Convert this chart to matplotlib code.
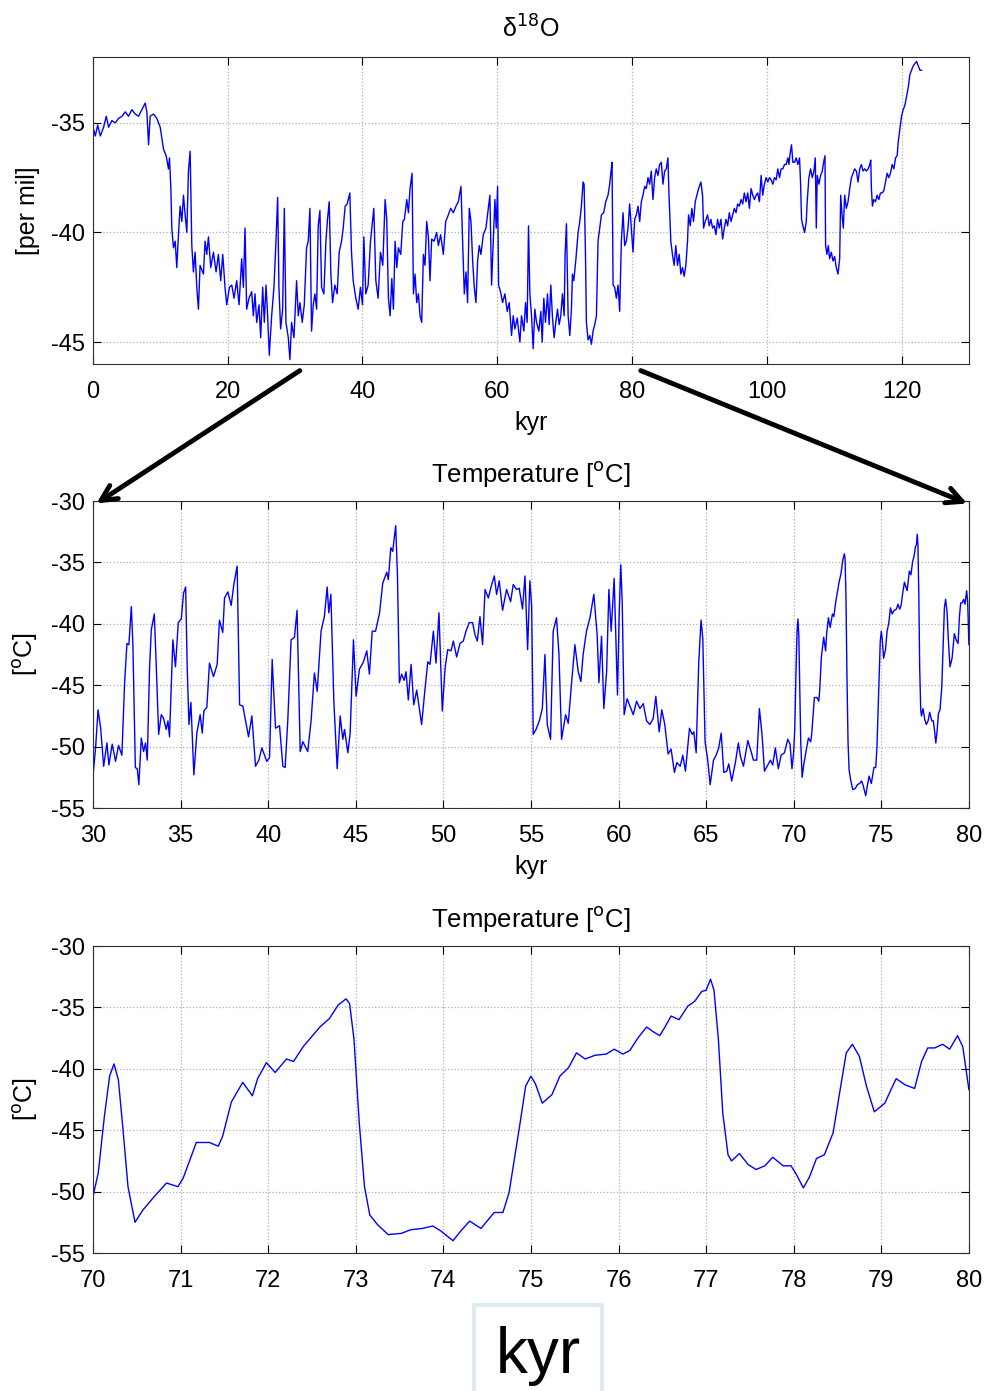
import numpy as np
import matplotlib.pyplot as plt

plt.rcParams['font.family'] = ['Liberation Sans', 'DejaVu Sans']
plt.rcParams['axes.unicode_minus'] = False

# ---------------- delta 18O, 0-123 kyr ----------------
top_kyr = [0.1, 0.35, 0.7, 1.09, 1.58, 1.98, 2.32, 2.81, 3.31, 3.8, 4.3, 4.79, 5.28, 5.78, 6.27, 6.77,
           7.26, 7.75, 8.0, 8.25, 8.49, 8.99, 9.48, 9.98, 10.22, 10.47, 10.86, 11.21, 11.36, 11.56, 11.7,
           11.95, 12.2, 12.44, 12.69, 12.94, 13.19, 13.43, 13.68, 13.93, 14.17, 14.42, 14.67, 14.91, 15.16,
           15.41, 15.65, 15.9, 16.4, 16.64, 16.89, 17.14, 17.48, 17.88, 18.27, 18.62, 18.96, 19.26, 19.6,
           19.85, 20.25, 20.6, 20.94, 21.33, 21.68, 22.07, 22.32, 22.57, 22.81, 23.16, 23.56, 23.8, 24.05,
           24.3, 24.64, 24.89, 25.19, 25.43, 25.68, 25.88, 26.17, 26.52, 26.86, 27.16, 27.41, 27.6, 27.85,
           28.15, 28.4, 28.64, 28.99, 29.23, 29.48, 29.83, 30.22, 30.47, 30.72, 31.06, 31.36, 31.7, 31.95,
           32.2, 32.44, 32.69, 32.94, 33.19, 33.43, 33.68, 33.93, 34.27, 34.57, 34.81, 35.06, 35.31, 35.56,
           35.9, 36.25, 36.54, 36.89, 37.14, 37.43, 37.73, 38.12, 38.37, 38.62, 39.01, 39.36, 39.7, 40.0,
           40.2, 40.49, 40.84, 41.19, 41.48, 41.68, 41.98, 42.32, 42.67, 43.01, 43.36, 43.6, 43.85, 44.1,
           44.35, 44.59, 44.84, 45.09, 45.33, 45.68, 45.98, 46.22, 46.57, 46.82, 47.06, 47.36, 47.56, 47.8,
           48.05, 48.3, 48.54, 48.79, 49.04, 49.28, 49.53, 49.78, 50.02, 50.27, 50.62, 51.01, 51.26, 51.6,
           52.0, 52.35, 52.74, 53.09, 53.48, 53.88, 54.22, 54.62, 54.86, 55.11, 55.36, 55.6, 55.85, 56.1,
           56.35, 56.59, 56.84, 57.09, 57.33, 57.58, 57.93, 58.32, 58.67, 58.91, 59.16, 59.41, 59.65, 59.85,
           60.05, 60.2, 60.49, 60.79, 61.14, 61.48, 61.78, 62.12, 62.37, 62.62, 62.96, 63.36, 63.6, 63.95,
           64.2, 64.44, 64.64, 64.84, 65.09, 65.33, 65.58, 65.83, 66.17, 66.47, 66.67, 66.91, 67.16, 67.46,
           67.7, 67.95, 68.2, 68.44, 68.69, 68.94, 69.19, 69.43, 69.68, 69.93, 70.07, 70.27, 70.52, 70.77,
           71.01, 71.16, 71.36, 71.65, 72.0, 72.25, 72.49, 72.74, 72.89, 73.09, 73.23, 73.48, 73.73, 73.98,
           74.22, 74.47, 74.72, 74.96, 75.21, 75.46, 75.8, 76.1, 76.44, 76.69, 76.89, 77.04, 77.19, 77.43,
           77.68, 77.93, 78.17, 78.42, 78.67, 78.91, 79.16, 79.41, 79.65, 79.9, 80.15, 80.4, 80.64, 80.89,
           81.14, 81.38, 81.63, 81.88, 82.12, 82.37, 82.62, 82.86, 83.11, 83.36, 83.6, 83.85, 84.1, 84.35,
           84.59, 84.84, 85.09, 85.33, 85.48, 85.76, 86.0, 86.25, 86.5, 86.75, 87.0, 87.25, 87.49, 87.74,
           87.99, 88.24, 88.39, 88.64, 88.88, 89.13, 89.38, 89.63, 89.88, 90.22, 90.47, 90.62, 90.87, 91.22,
           91.46, 91.71, 91.96, 92.21, 92.46, 92.7, 92.95, 93.2, 93.45, 93.7, 93.95, 94.19, 94.44, 94.69,
           94.94, 95.19, 95.43, 95.68, 95.93, 96.18, 96.43, 96.67, 96.92, 97.17, 97.42, 97.67, 97.92, 98.16,
           98.41, 98.66, 98.91, 99.16, 99.4, 99.65, 99.9, 100.15, 100.4, 100.65, 100.89, 101.14, 101.39,
           101.64, 101.89, 102.13, 102.38, 102.63, 102.88, 103.13, 103.28, 103.47, 103.67, 103.87, 104.12,
           104.37, 104.62, 104.86, 105.01, 105.16, 105.36, 105.61, 105.86, 106.0, 106.25, 106.5, 106.75,
           107.0, 107.2, 107.35, 107.49, 107.74, 107.99, 108.24, 108.44, 108.64, 108.73, 108.93, 109.13,
           109.33, 109.58, 109.83, 110.07, 110.32, 110.57, 110.82, 110.97, 111.17, 111.36, 111.56, 111.81,
           112.06, 112.31, 112.56, 112.8, 113.05, 113.3, 113.55, 113.8, 114.04, 114.29, 114.54, 114.79,
           115.04, 115.29, 115.43, 115.53, 115.68, 115.88, 116.13, 116.38, 116.63, 116.87, 117.12, 117.37,
           117.62, 117.87, 118.11, 118.36, 118.61, 118.86, 119.11, 119.35, 119.5, 119.75, 120.0, 120.25,
           120.5, 120.74, 120.99, 121.24, 121.49, 121.74, 121.99, 122.23, 122.48, 122.73, 122.98]
top_d18o = [-35.3, -35.6, -35.1, -35.6, -35.2, -34.7, -35.2, -34.9, -35.0, -34.8, -34.7, -34.5, -34.7, -34.4,
            -34.6, -34.7, -34.4, -34.1, -34.5, -36.0, -34.7, -34.6, -34.8, -35.2, -35.7, -36.2, -36.5, -37.1,
            -36.6, -38.0, -39.8, -40.7, -40.4, -41.6, -40.1, -38.8, -39.5, -38.3, -39.2, -40.0, -37.2, -36.3,
            -40.6, -41.8, -40.9, -42.5, -43.5, -41.5, -41.9, -40.4, -41.0, -40.2, -41.6, -40.9, -41.8, -41.0,
            -42.2, -41.0, -42.5, -43.3, -42.5, -42.4, -43.0, -42.2, -43.3, -41.2, -42.5, -39.8, -43.5, -43.0,
            -42.7, -43.8, -42.8, -44.1, -43.3, -44.8, -42.5, -44.1, -42.4, -43.5, -45.6, -43.8, -42.5, -40.4,
            -38.4, -42.5, -44.4, -43.5, -38.9, -44.1, -44.8, -45.8, -44.1, -44.8, -42.2, -43.8, -43.2, -44.1,
            -43.3, -40.7, -40.4, -38.9, -44.5, -43.3, -42.8, -43.5, -39.7, -39.0, -42.5, -42.8, -40.4, -39.4,
            -38.6, -41.9, -43.2, -42.4, -42.8, -40.9, -40.4, -39.8, -38.8, -38.7, -38.2, -40.9, -42.2, -43.0,
            -43.5, -42.5, -43.3, -40.2, -42.8, -42.4, -40.4, -39.5, -38.9, -42.2, -43.0, -40.9, -41.5, -38.5,
            -39.4, -43.0, -43.8, -42.1, -43.5, -40.4, -41.6, -40.7, -41.0, -39.5, -39.4, -38.5, -39.1, -38.0,
            -37.3, -42.8, -41.9, -43.2, -42.8, -43.8, -44.1, -41.0, -41.5, -39.5, -40.2, -42.2, -40.3, -40.4,
            -40.0, -40.6, -40.1, -41.0, -39.5, -39.2, -38.9, -39.1, -38.8, -38.6, -37.9, -40.4, -42.8, -41.8,
            -43.2, -38.9, -39.5, -41.3, -42.5, -43.2, -41.3, -40.6, -41.0, -40.1, -39.8, -38.9, -38.3, -42.4,
            -40.4, -38.5, -39.8, -37.9, -42.4, -42.7, -43.2, -42.8, -43.6, -43.2, -44.7, -43.8, -44.4, -43.9,
            -45.0, -43.8, -44.5, -43.2, -44.1, -39.7, -42.8, -43.8, -45.3, -43.5, -44.1, -44.5, -43.6, -45.0,
            -43.0, -44.1, -42.8, -44.2, -42.4, -43.9, -44.8, -44.1, -43.5, -44.2, -43.8, -42.8, -43.8, -41.0,
            -39.6, -43.8, -44.7, -43.5, -41.9, -42.2, -41.3, -40.0, -39.5, -38.8, -37.7, -37.8, -40.9, -44.1,
            -44.9, -44.7, -45.1, -44.5, -44.2, -43.8, -40.4, -39.8, -39.2, -39.1, -38.6, -38.3, -37.8, -37.2,
            -36.8, -42.4, -42.5, -43.0, -42.4, -43.6, -40.4, -39.1, -40.6, -40.4, -39.8, -38.7, -39.8, -40.9,
            -39.4, -39.2, -38.8, -39.5, -38.6, -38.3, -37.9, -38.0, -37.5, -37.8, -37.2, -38.5, -37.5, -37.1,
            -37.4, -36.9, -36.8, -37.8, -37.2, -37.1, -36.6, -38.2, -40.4, -41.0, -41.5, -40.6, -41.5, -41.0,
            -41.9, -41.6, -42.0, -41.5, -40.4, -39.2, -39.7, -38.9, -39.5, -38.6, -38.3, -38.0, -37.7, -38.3,
            -39.8, -39.5, -39.2, -39.7, -39.4, -39.8, -39.7, -40.1, -39.4, -39.8, -39.4, -40.3, -39.8, -39.4,
            -39.7, -39.1, -39.5, -39.2, -38.9, -39.1, -38.7, -38.8, -38.5, -38.7, -38.2, -38.6, -38.2, -38.9,
            -38.0, -38.3, -38.5, -38.3, -38.2, -38.6, -37.4, -38.3, -37.8, -37.5, -37.7, -37.5, -37.6, -37.8,
            -37.5, -37.6, -37.1, -37.5, -37.1, -37.1, -36.9, -36.9, -36.6, -36.9, -36.4, -36.0, -36.8, -36.8,
            -36.6, -36.9, -36.6, -37.7, -39.4, -39.7, -40.0, -39.5, -38.6, -37.5, -37.1, -37.5, -37.2, -36.6,
            -39.8, -37.4, -37.8, -37.4, -37.2, -36.8, -36.5, -40.6, -41.0, -40.6, -41.2, -40.9, -41.3, -41.1,
            -41.6, -41.9, -41.2, -38.3, -39.2, -39.8, -38.3, -38.9, -38.6, -38.0, -37.5, -37.3, -37.1, -37.2,
            -37.7, -37.1, -36.9, -37.2, -37.1, -37.2, -37.1, -36.9, -36.7, -38.0, -38.8, -38.5, -38.6, -38.3,
            -38.5, -38.2, -38.2, -38.1, -37.7, -37.3, -37.5, -37.3, -36.9, -37.1, -36.6, -36.5, -35.9, -35.3,
            -34.7, -34.4, -34.2, -33.8, -33.4, -32.8, -32.6, -32.4, -32.3, -32.2, -32.4, -32.6, -32.6]

# ---------------- temperature, 30-70 kyr ----------------
mid_kyr = [30.0, 30.15, 30.29, 30.44, 30.61, 30.8, 30.91, 31.1, 31.29, 31.46, 31.65, 31.81, 31.94, 32.05,
           32.19, 32.28, 32.42, 32.53, 32.62, 32.76, 32.89, 33.0, 33.1, 33.23, 33.33, 33.5, 33.61, 33.75,
           33.9, 34.03, 34.18, 34.28, 34.37, 34.56, 34.71, 34.87, 35.04, 35.17, 35.29, 35.38, 35.48, 35.59,
           35.76, 35.93, 36.12, 36.24, 36.33, 36.5, 36.65, 36.88, 37.09, 37.22, 37.41, 37.51, 37.7, 37.89,
           38.04, 38.23, 38.37, 38.56, 38.71, 38.88, 39.07, 39.28, 39.47, 39.64, 39.79, 39.92, 40.08, 40.23,
           40.42, 40.65, 40.84, 40.97, 41.12, 41.31, 41.5, 41.65, 41.83, 41.98, 42.26, 42.45, 42.64, 42.8,
           43.02, 43.21, 43.37, 43.46, 43.58, 43.75, 43.94, 44.11, 44.26, 44.36, 44.55, 44.68, 44.87, 45.02,
           45.21, 45.44, 45.63, 45.78, 45.94, 46.13, 46.36, 46.54, 46.77, 46.86, 47.0, 47.11, 47.28, 47.38,
           47.49, 47.62, 47.76, 47.87, 48.0, 48.16, 48.31, 48.48, 48.63, 48.76, 48.92, 49.11, 49.24, 49.43,
           49.58, 49.75, 49.94, 50.1, 50.25, 50.44, 50.57, 50.76, 50.95, 51.14, 51.29, 51.48, 51.67, 51.81,
           51.94, 52.09, 52.24, 52.38, 52.57, 52.72, 52.91, 53.04, 53.19, 53.38, 53.61, 53.84, 53.99, 54.18,
           54.33, 54.52, 54.66, 54.81, 54.94, 55.04, 55.13, 55.29, 55.48, 55.65, 55.8, 55.93, 56.12, 56.27,
           56.46, 56.6, 56.75, 56.98, 57.13, 57.32, 57.51, 57.7, 57.85, 57.98, 58.17, 58.37, 58.59, 58.78,
           58.88, 59.03, 59.16, 59.32, 59.45, 59.58, 59.75, 59.94, 60.04, 60.13, 60.21, 60.32, 60.49, 60.65,
           60.84, 61.03, 61.22, 61.41, 61.6, 61.79, 61.98, 62.13, 62.32, 62.47, 62.64, 62.83, 63.0, 63.19,
           63.33, 63.52, 63.67, 63.82, 64.05, 64.2, 64.3, 64.43, 64.58, 64.71, 64.81, 64.94, 65.1, 65.23,
           65.42, 65.57, 65.72, 65.86, 66.01, 66.18, 66.29, 66.46, 66.67, 66.84, 66.96, 67.13, 67.38, 67.57,
           67.7, 67.89, 68.04, 68.19, 68.33, 68.52, 68.67, 68.8, 68.95, 69.12, 69.28, 69.47, 69.66, 69.79,
           69.9]
mid_temp = [-52.4, -50.1, -47.0, -48.5, -51.6, -49.7, -51.5, -49.8, -51.2, -49.9, -50.7, -44.7, -41.6, -41.7,
            -38.6, -41.7, -51.7, -51.8, -53.1, -49.3, -50.4, -49.7, -51.1, -43.6, -40.5, -39.2, -43.3, -49.0,
            -47.4, -47.7, -48.6, -47.9, -49.2, -41.3, -43.5, -39.9, -39.6, -37.5, -37.0, -43.6, -48.2, -46.4,
            -52.3, -48.9, -47.4, -48.9, -47.1, -46.8, -43.2, -44.3, -43.3, -39.7, -40.7, -37.9, -37.4, -38.5,
            -36.8, -35.3, -46.6, -46.7, -47.9, -49.2, -47.5, -51.6, -51.1, -50.1, -50.7, -51.2, -50.9, -42.9,
            -48.5, -48.3, -51.6, -51.7, -47.9, -41.3, -41.1, -38.9, -50.4, -49.6, -50.4, -47.9, -44.0, -45.5,
            -40.6, -39.4, -37.0, -39.1, -37.6, -46.3, -51.8, -47.5, -49.4, -48.6, -50.5, -48.9, -41.3, -45.9,
            -43.7, -43.1, -42.2, -44.1, -40.6, -40.6, -39.1, -36.7, -35.8, -36.4, -33.8, -34.1, -32.0, -36.0,
            -44.8, -44.1, -44.6, -43.9, -46.2, -43.3, -46.6, -45.4, -46.9, -48.2, -45.8, -43.1, -43.3, -40.6,
            -43.2, -39.1, -47.1, -43.6, -42.1, -42.2, -41.4, -42.7, -41.6, -41.4, -40.6, -39.9, -39.9, -40.9,
            -41.4, -39.4, -41.7, -37.2, -37.9, -37.0, -36.1, -37.6, -36.5, -38.9, -37.2, -38.2, -36.8, -37.2,
            -37.1, -38.8, -36.1, -42.1, -36.5, -38.5, -49.0, -48.6, -47.9, -46.9, -42.5, -48.2, -49.4, -40.6,
            -39.5, -42.5, -49.4, -47.4, -48.1, -44.8, -41.7, -43.9, -44.7, -42.5, -40.6, -39.5, -37.6, -40.9,
            -44.8, -41.0, -46.9, -43.9, -37.2, -40.6, -36.3, -45.8, -39.0, -35.2, -38.3, -47.4, -46.1, -46.7,
            -47.4, -46.3, -46.9, -46.5, -47.9, -48.2, -47.7, -45.9, -48.8, -47.0, -48.2, -50.6, -50.2, -52.1,
            -51.3, -51.6, -50.7, -52.0, -48.5, -49.0, -48.8, -50.5, -43.1, -39.7, -41.2, -49.6, -51.2, -53.1,
            -51.1, -50.7, -50.1, -48.9, -52.1, -52.0, -51.4, -52.8, -51.3, -49.7, -50.8, -51.6, -49.5, -50.4,
            -51.1, -51.1, -46.9, -49.0, -52.0, -51.5, -51.1, -51.5, -50.1, -51.8, -50.7, -50.5, -49.4, -49.8,
            -51.8]

# ---------------- temperature, 70-80 kyr ----------------
zoom_kyr = [70.0, 70.06, 70.13, 70.19, 70.24, 70.29, 70.34, 70.4, 70.48, 70.57, 70.7, 70.84, 70.97, 71.03,
            71.18, 71.33, 71.43, 71.48, 71.58, 71.71, 71.82, 71.88, 71.98, 72.08, 72.21, 72.29, 72.4, 72.59,
            72.7, 72.8, 72.89, 72.93, 72.98, 73.04, 73.1, 73.16, 73.25, 73.37, 73.52, 73.63, 73.76, 73.88,
            73.97, 74.11, 74.2, 74.3, 74.43, 74.58, 74.68, 74.75, 74.87, 74.94, 75.0, 75.05, 75.13, 75.24,
            75.33, 75.43, 75.52, 75.62, 75.73, 75.86, 75.95, 76.05, 76.13, 76.22, 76.32, 76.4, 76.47, 76.53,
            76.6, 76.69, 76.79, 76.87, 76.95, 77.0, 77.05, 77.09, 77.14, 77.19, 77.25, 77.29, 77.38, 77.48,
            77.57, 77.67, 77.76, 77.88, 77.97, 78.03, 78.11, 78.18, 78.26, 78.35, 78.45, 78.53, 78.6, 78.67,
            78.75, 78.83, 78.92, 79.04, 79.11, 79.17, 79.27, 79.38, 79.46, 79.53, 79.61, 79.7, 79.78, 79.87,
            79.93, 80.0]
zoom_temp = [-50.4, -48.5, -43.9, -40.6, -39.6, -40.9, -44.7, -49.6, -52.5, -51.5, -50.4, -49.3, -49.6, -48.9,
             -46.0, -46.0, -46.3, -45.5, -42.7, -41.1, -42.2, -40.8, -39.5, -40.3, -39.2, -39.4, -38.2, -36.6,
             -35.9, -34.8, -34.3, -34.7, -37.6, -44.4, -49.6, -51.9, -52.7, -53.5, -53.4, -53.1, -53.0, -52.8,
             -53.2, -54.0, -53.2, -52.4, -53.0, -51.7, -51.7, -50.1, -44.7, -41.4, -40.6, -41.2, -42.8, -42.1,
             -40.6, -39.9, -38.7, -39.2, -38.9, -38.8, -38.4, -38.8, -38.5, -37.5, -36.6, -37.0, -37.3, -36.6,
             -35.7, -36.0, -34.9, -34.5, -33.7, -33.6, -32.7, -33.6, -37.6, -43.6, -47.0, -47.5, -46.9, -47.8,
             -48.2, -47.9, -47.2, -47.9, -47.9, -48.6, -49.7, -48.8, -47.3, -47.0, -45.2, -41.7, -38.7, -38.0,
             -39.0, -41.4, -43.5, -42.8, -41.7, -40.8, -41.3, -41.6, -39.4, -38.3, -38.3, -38.0, -38.4, -37.3,
             -38.2, -41.7]

blue = '#0000ff'


def style(ax):
    ax.tick_params(direction='in', top=True, right=True, labelsize=17, length=6)
    ax.tick_params(axis='x', pad=12)
    ax.tick_params(axis='y', pad=6)
    ax.grid(True, linestyle=':', color='#b0b0b0', linewidth=0.9)
    for s in ax.spines.values():
        s.set_color('#303030')


fig = plt.figure(figsize=(9.9, 13.91), dpi=100)

# ---- top: d18O ----
ax1 = fig.add_axes([0.0939, 0.7383, 0.8848, 0.2207])
ax1.plot(top_kyr, top_d18o, color=blue, lw=1.0)
ax1.set_xlim(0, 130)
ax1.set_ylim(-46, -32)
ax1.set_xticks(np.arange(0, 121, 20))
ax1.set_yticks([-45, -40, -35])
ax1.set_title('δ$^{18}$O', fontsize=18, pad=14)
ax1.set_ylabel('[per mil]', fontsize=18, labelpad=8)
ax1.set_xlabel('kyr', fontsize=18, labelpad=6)
style(ax1)

# ---- middle: temperature 30-80 ----
ax2 = fig.add_axes([0.0939, 0.4191, 0.8848, 0.2207])
ax2.plot(mid_kyr + zoom_kyr, mid_temp + zoom_temp, color=blue, lw=1.0)
ax2.set_xlim(30, 80)
ax2.set_ylim(-55, -30)
ax2.set_xticks(np.arange(30, 81, 5))
ax2.set_yticks(np.arange(-55, -29, 5))
ax2.set_title('Temperature [$^{\\mathrm{o}}$C]', fontsize=18.5, pad=14)
ax2.set_ylabel('[$^{\\mathrm{o}}$C]', fontsize=18, labelpad=8)
ax2.set_xlabel('kyr', fontsize=18, labelpad=6)
style(ax2)

# ---- bottom: temperature 70-80 ----
ax3 = fig.add_axes([0.0939, 0.0992, 0.8848, 0.2207])
ax3.plot(zoom_kyr, zoom_temp, color=blue, lw=1.0)
ax3.set_xlim(70, 80)
ax3.set_ylim(-55, -30)
ax3.set_xticks(np.arange(70, 81, 1))
ax3.set_yticks(np.arange(-55, -29, 5))
ax3.set_title('Temperature [$^{\\mathrm{o}}$C]', fontsize=18.5, pad=14)
ax3.set_ylabel('[$^{\\mathrm{o}}$C]', fontsize=18, labelpad=8)
style(ax3)

# big "kyr" label in a pale box
fig.text(0.5435, 0.025, 'kyr', fontsize=46, ha='center', va='center',
         bbox=dict(boxstyle='square,pad=0.33', facecolor='white', edgecolor='#dcecf0', linewidth=3))

# arrows from top axis to the middle panel
arrow = dict(arrowstyle='->', lw=3.5, color='k', mutation_scale=28, shrinkA=0, shrinkB=0)
ax2.annotate('', xy=(30.2, -30.2), xytext=(30.7, -46.3), textcoords=ax1.transData,
             arrowprops=arrow, annotation_clip=False)
ax2.annotate('', xy=(79.9, -30.2), xytext=(81.3, -46.3), textcoords=ax1.transData,
             arrowprops=arrow, annotation_clip=False)

fig.savefig('out.png', dpi=100)
